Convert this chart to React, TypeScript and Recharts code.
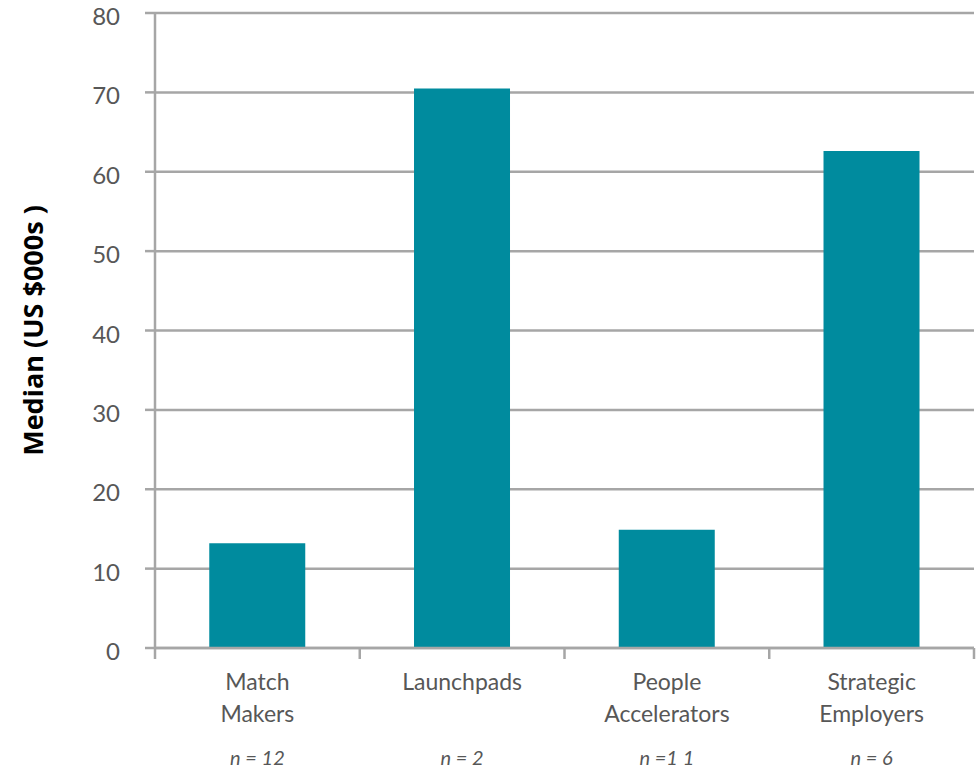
import React from 'react';
import { BarChart, Bar, XAxis, YAxis, CartesianGrid, Label } from 'recharts';

const categories = ['Match Makers', 'Launchpads', 'People Accelerators', 'Strategic Employers'];
const categoryLines = [['Match', 'Makers'], ['Launchpads'], ['People', 'Accelerators'], ['Strategic', 'Employers']];
const sampleSizes = ['n = 12', 'n = 2', 'n =1 1', 'n = 6'];
const medians = [13.2, 70.5, 14.9, 62.6];
const yTicks = [0, 10, 20, 30, 40, 50, 60, 70, 80];

const data = categories.map((name, i) => ({ name, median: medians[i] }));

const GRID = '#a6a6a6';
const TEXT = '#575757';
const FONT = 'Lato, "Open Sans", sans-serif';

const CategoryTick = (props: any) => {
  const { x, y, index, payload, width } = props;
  const half = payload && payload.offset ? payload.offset : (width / categories.length) / 2;
  const lines = categoryLines[index] || [];
  const isLast = index === categories.length - 1;
  const base = y - 2;
  return (
    <g>
      <line x1={x - half} x2={x - half} y1={base} y2={base + 11} stroke={GRID} strokeWidth={2.5} />
      {isLast && <line x1={x + half} x2={x + half} y1={base} y2={base + 11} stroke={GRID} strokeWidth={2.5} />}
      {lines.map((l: string, k: number) => (
        <text key={k} x={x} y={base + 42 + k * 32} textAnchor="middle" fill={TEXT} fontSize={23} fontFamily={FONT}>
          {l}
        </text>
      ))}
      <text x={x} y={base + 117} textAnchor="middle" fill={TEXT} fontSize={20} fontStyle="italic" fontFamily={FONT}>
        {sampleSizes[index]}
      </text>
    </g>
  );
};

const ValueTick = (props: any) => {
  const { x, y, payload } = props;
  return (
    <text x={x} y={y + 12} textAnchor="end" fill={TEXT} fontSize={24} fontFamily={FONT}>
      {payload.value}
    </text>
  );
};

const App: React.FC = () => {
  return (
    <div style={{ position: 'absolute', left: 0, top: 0, background: 'white' }}>
      <BarChart
        width={976}
        height={770}
        data={data}
        margin={{ top: 13, right: 2, bottom: 0, left: 0 }}
        barCategoryGap="26.5%"
      >
        <CartesianGrid vertical={false} stroke={GRID} strokeWidth={2.5} />
        <XAxis
          dataKey="name"
          height={122}
          interval={0}
          axisLine={{ stroke: GRID, strokeWidth: 2.5 }}
          tickLine={false}
          tickSize={0}
          tickMargin={2}
          tick={<CategoryTick />}
        />
        <YAxis
          width={155}
          domain={[0, 80]}
          ticks={yTicks}
          interval={0}
          axisLine={{ stroke: GRID, strokeWidth: 2.5 }}
          tickLine={{ stroke: GRID, strokeWidth: 2.5 }}
          tickSize={10}
          tickMargin={25}
          tick={<ValueTick />}
        >
          <Label
            value="Median (US $000s )"
            angle={-90}
            position="insideLeft"
            offset={33}
            style={{ textAnchor: 'middle', fill: '#000', fontSize: 27, fontWeight: 700, fontFamily: '"Open Sans", sans-serif' }}
          />
        </YAxis>
        <Bar dataKey="median" fill="#008b9e" isAnimationActive={false} />
      </BarChart>
    </div>
  );
};

export default App;
